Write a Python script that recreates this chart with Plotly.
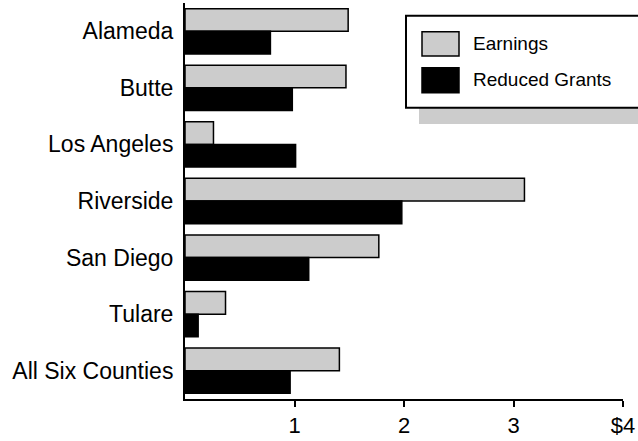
import plotly.graph_objects as go

counties = ["Alameda", "Butte", "Los Angeles", "Riverside", "San Diego", "Tulare", "All Six Counties"]
earnings = [1.49, 1.47, 0.26, 3.10, 1.77, 0.37, 1.41]
reduced_grants = [0.78, 0.98, 1.01, 1.98, 1.13, 0.12, 0.96]
x_tickvals = [1, 2, 3, 4]
x_ticktext = ["1", "2", "3", "$4"]

W, H = 638, 441
L, R, T, B = 185, 15, 3, 42
PW, PH = W - L - R, H - T - B

def px(x):
    return (x - L) / PW

def py(y):
    return (H - B - y) / PH

FONT = "Liberation Sans, Arial, sans-serif"
GRAY = "#cccccc"

fig = go.Figure()
fig.add_trace(go.Bar(y=counties, x=earnings, orientation="h", name="Earnings",
                     marker=dict(color=GRAY, line=dict(color="black", width=1.5))))
fig.add_trace(go.Bar(y=counties, x=reduced_grants, orientation="h", name="Reduced Grants",
                     marker=dict(color="black", line=dict(color="black", width=1.5))))

shapes = [
    dict(type="rect", xref="paper", yref="paper", x0=px(419), x1=px(660), y0=py(124), y1=py(107.7),
         fillcolor=GRAY, line=dict(width=0), layer="above"),
    dict(type="rect", xref="paper", yref="paper", x0=px(406), x1=px(660), y0=py(107.7), y1=py(15.7),
         fillcolor="white", line=dict(color="black", width=2), layer="above"),
    dict(type="rect", xref="paper", yref="paper", x0=px(422), x1=px(459), y0=py(56), y1=py(31.7),
         fillcolor=GRAY, line=dict(color="black", width=1.5), layer="above"),
    dict(type="rect", xref="paper", yref="paper", x0=px(422), x1=px(459), y0=py(92.7), y1=py(67.7),
         fillcolor="black", line=dict(color="black", width=1.5), layer="above"),
]
annotations = [
    dict(xref="paper", yref="paper", x=px(471), y=py(44), text="Earnings", showarrow=False,
         xanchor="left", yanchor="middle", font=dict(family=FONT, size=19, color="black")),
    dict(xref="paper", yref="paper", x=px(471), y=py(80), text="Reduced Grants", showarrow=False,
         xanchor="left", yanchor="middle", font=dict(family=FONT, size=19, color="black")),
]

fig.update_layout(
    width=W, height=H,
    margin=dict(l=L, r=R, t=T, b=B, pad=0),
    paper_bgcolor="white", plot_bgcolor="white",
    barmode="group", bargap=0.2, bargroupgap=0,
    showlegend=False,
    font=dict(family=FONT, color="black"),
    shapes=shapes, annotations=annotations,
    xaxis=dict(range=[0, 4], tickvals=x_tickvals, ticktext=x_ticktext, showgrid=False, zeroline=False,
               showline=True, linecolor="black", linewidth=2, ticks="outside", ticklen=6, tickwidth=2,
               tickcolor="black", tickfont=dict(size=22, family=FONT, color="black")),
    yaxis=dict(autorange="reversed", showgrid=False, zeroline=False, showline=True, linecolor="black",
               linewidth=2, ticks="outside", ticklen=5, tickcolor="rgba(0,0,0,0)",
               tickfont=dict(size=23, family=FONT, color="black")),
)

fig.write_html("out.html", config={"displayModeBar": False},
               post_script="document.body.style.margin='0';document.body.style.overflow='hidden';")
